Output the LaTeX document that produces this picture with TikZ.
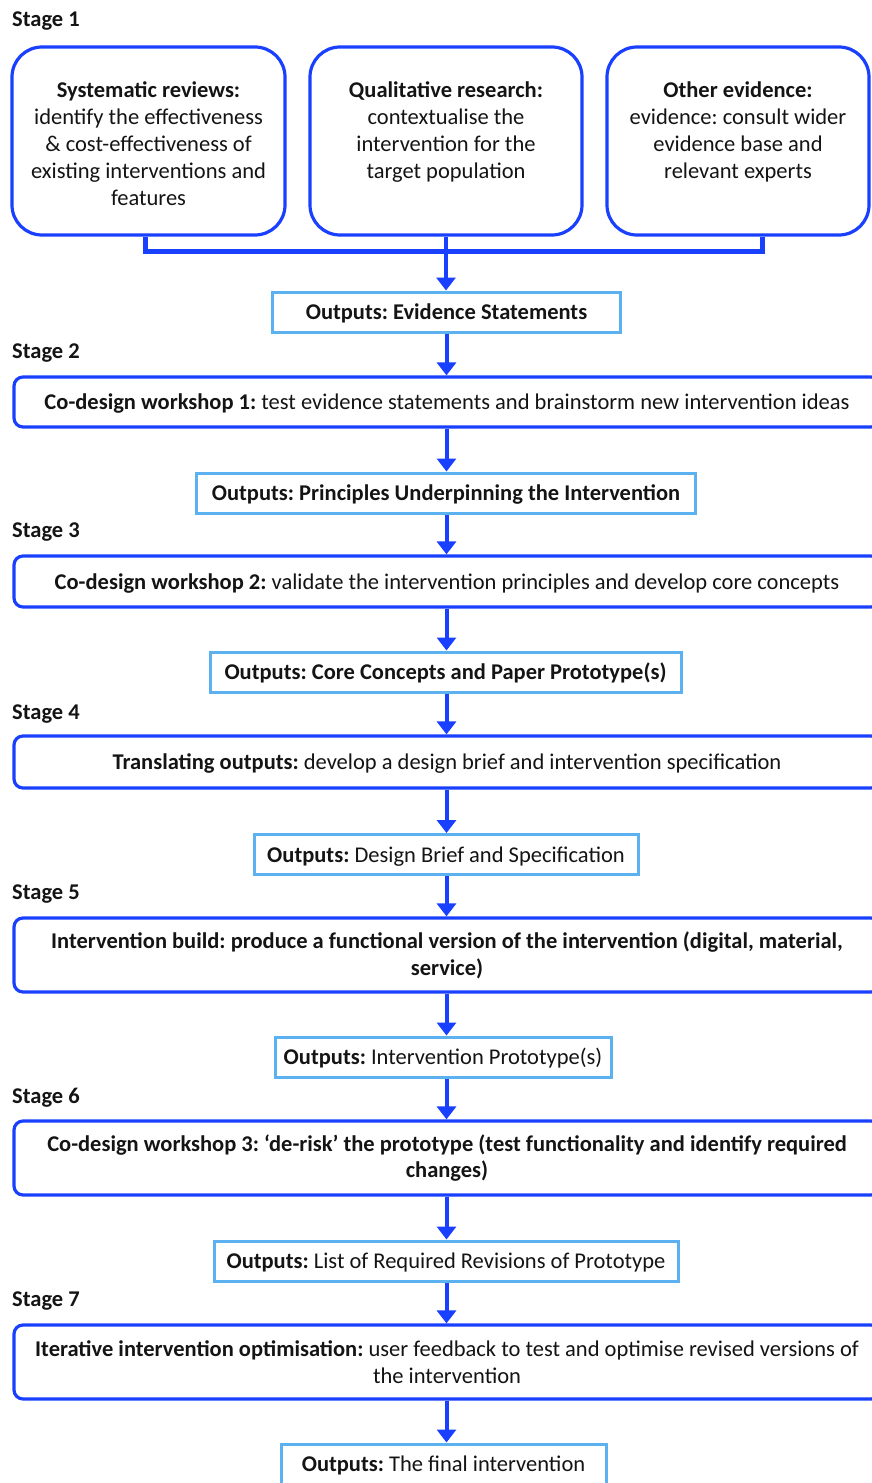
\documentclass[tikz,border=0pt]{standalone}
\usepackage{fontspec}
\setmainfont{Carlito}
\usetikzlibrary{arrows.meta}
\definecolor{bl}{RGB}{26,64,255}
\definecolor{lb}{RGB}{92,178,240}
\definecolor{tx}{RGB}{20,20,20}
\frenchspacing
\tikzset{
  x=1pt, y=-1pt,
  every node/.style={text=tx, font=\fontsize{22.5}{26.8}\selectfont},
  topbox/.style={draw=bl, line width=3.2pt, rounded corners=30pt, inner sep=0pt, minimum width=#1, minimum height=188pt},
  widebox/.style={draw=bl, line width=3.2pt, rounded corners=9pt, inner sep=0pt, minimum width=866pt, minimum height=#1, align=center},
  oneline/.style={text height=19.5pt, text depth=4.5pt},
  outbox/.style={draw=lb, line width=3pt, inner sep=0pt, minimum width=#1, minimum height=40pt, oneline},
  stagelbl/.style={anchor=west, inner sep=0pt, font=\fontsize{22.5}{26}\selectfont\bfseries},
  arr/.style={draw=bl, line width=4pt, -{Triangle[width=19pt,length=13pt]}},
  brk/.style={draw=bl, line width=5pt}
}
\begin{document}
\begin{tikzpicture}
\useasboundingbox (0,0) rectangle (872,1483);
\clip (0,0) rectangle (872,1483);
\fill[white] (0,0) rectangle (872,1483);

% Stage 1
\node[stagelbl] (st1) at (12,21.5) {Stage 1};
\node[topbox=273pt] (s1a) at (148.5,141) {\parbox[c][188pt][t]{266pt}{\centering\vspace*{35pt}\textbf{Systematic reviews:}\\identify the effectiveness\\\& cost-effectiveness of\\existing interventions and\\features}};
\node[topbox=272pt] (s1b) at (446,141) {\parbox[c][188pt][t]{262pt}{\centering\vspace*{35pt}\textbf{Qualitative research:}\\contextualise the\\intervention for the\\target population}};
\node[topbox=262pt] (s1c) at (738,141) {\parbox[c][188pt][t]{258pt}{\centering\vspace*{35pt}\textbf{Other evidence:}\\evidence: consult wider\\evidence base and\\relevant experts}};
\coordinate (b1) at (145,251);
\coordinate (b3) at (762,251);
\draw[brk] (s1a.south -| b1) -- (b1) -- (b3) -- (s1c.south -| b3);
\node[outbox=348pt] (o1) at (446.5,312) {\textbf{Outputs: Evidence Statements}};
\draw[arr] (s1b.south) -- (s1b.south |- o1.north);

% Stage 2
\node[stagelbl] (st2) at (12,353.5) {Stage 2};
\node[widebox=50pt, oneline] (w1) at (447,402) {\textbf{Co-design workshop 1:} test evidence statements and brainstorm new intervention ideas};
\draw[arr] (o1.south) -- (o1.south |- w1.north);
\node[outbox=499pt] (o2) at (446,493) {\textbf{Outputs: Principles Underpinning the Intervention}};
\draw[arr] (w1.south -| o1) -- (o2.north -| o1);

% Stage 3
\node[stagelbl] (st3) at (12,532.5) {Stage 3};
\node[widebox=51pt, oneline] (w2) at (447,581.5) {\textbf{Co-design workshop 2:} validate the intervention principles and develop core concepts};
\draw[arr] (o2.south -| o1) -- (w2.north -| o1);
\node[outbox=471pt] (o3) at (445.5,672) {\textbf{Outputs: Core Concepts and Paper Prototype(s)}};
\draw[arr] (w2.south -| o1) -- (o3.north -| o1);

% Stage 4
\node[stagelbl] (st4) at (12,714.5) {Stage 4};
\node[widebox=52pt, oneline] (w3) at (447,762) {\textbf{Translating outputs:} develop a design brief and intervention specification};
\draw[arr] (o3.south -| o1) -- (w3.north -| o1);
\node[outbox=384pt] (o4) at (446,854.5) {\textbf{Outputs:} Design Brief and Specification};
\draw[arr] (w3.south -| o1) -- (o4.north -| o1);

% Stage 5
\node[stagelbl] (st5) at (12,894.5) {Stage 5};
\node[widebox=74pt] (w4) at (447,955) {\textbf{Intervention build: produce a functional version of the intervention (digital, material,}\\\textbf{service)}};
\draw[arr] (o4.south -| o1) -- (w4.north -| o1);
\node[outbox=336pt] (o5) at (443,1057) {\textbf{Outputs:} Intervention Prototype(s)};
\draw[arr] (w4.south -| o1) -- (o5.north -| o1);

% Stage 6
\node[stagelbl] (st6) at (12,1097.5) {Stage 6};
\node[widebox=74pt] (w5) at (447,1158) {\textbf{Co-design workshop 3: ‘de-risk’ the prototype (test functionality and identify required}\\\textbf{changes)}};
\draw[arr] (o5.south -| o1) -- (w5.north -| o1);
\node[outbox=464pt] (o6) at (446,1261) {\textbf{Outputs:} List of Required Revisions of Prototype};
\draw[arr] (w5.south -| o1) -- (o6.north -| o1);

% Stage 7
\node[stagelbl] (st7) at (12,1301.5) {Stage 7};
\node[widebox=74pt] (w6) at (447,1362) {\textbf{Iterative intervention optimisation:} user feedback to test and optimise revised versions of\\the intervention};
\draw[arr] (o6.south -| o1) -- (w6.north -| o1);
\node[outbox=325pt] (o7) at (443.5,1464) {\textbf{Outputs:} The final intervention};
\draw[arr] (w6.south -| o1) -- (o7.north -| o1);
\end{tikzpicture}
\end{document}
